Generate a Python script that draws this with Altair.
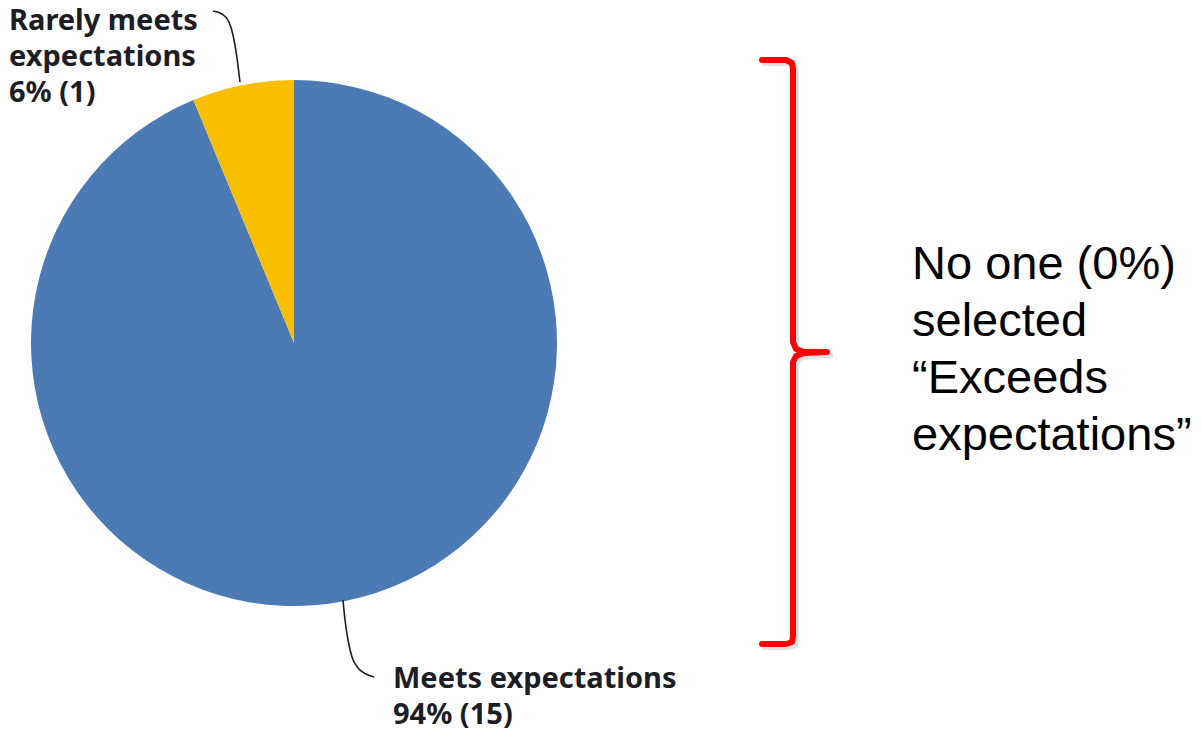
import altair as alt
import pandas as pd

# ---- data ----
categories = ["Meets expectations", "Rarely meets expectations"]
counts = [15, 1]
shares = ["94%", "6%"]
slice_colors = ["#4c7ab5", "#f8be00"]

label_lines = [["Meets expectations", "94% (15)"],
               ["Rarely meets", "expectations", "6% (1)"]]
label_x = [393, 9]
label_y = [688, 30]

note_lines = ["No one (0%)", "selected", "\u201cExceeds", "expectations\u201d"]

# leader lines (screen px) for the two labels
lead_top_x = [213, 222, 229, 233, 237, 240]
lead_top_y = [11, 14, 22, 35, 58, 82]
lead_bot_x = [343, 345, 348, 352, 358, 366, 374]
lead_bot_y = [600, 620, 640, 657, 668, 674, 677]

# red bracket path (screen px)
br_x = [762, 786, 792, 793, 793, 796, 804, 827, 804, 796, 793, 793, 792, 786, 762]
br_y = [60, 60, 63, 69, 342, 349, 352, 352, 353, 356, 362, 636, 642, 644, 644]

W, H, M = 1186, 722, 8
xs = alt.Scale(domain=[M, M + W], nice=False, zero=False)
ys = alt.Scale(domain=[M, M + H], nice=False, zero=False, reverse=True)

pie_df = pd.DataFrame({"cat": categories, "n": counts, "ord": [0, 1]})
pie = alt.Chart(pie_df).mark_arc(outerRadius=263, stroke=None).encode(
    theta=alt.Theta("n:Q", stack=True),
    order=alt.Order("ord:Q"),
    color=alt.Color("cat:N", scale=alt.Scale(domain=categories, range=slice_colors), legend=None),
    x=alt.value(294 - M),
    y=alt.value(343 - M),
)

lab_df = pd.DataFrame({
    "t": ["\n".join(l) for l in label_lines],
    "x": label_x, "y": label_y,
})
labels = alt.Chart(lab_df).mark_text(
    lineBreak="\n", align="left", baseline="alphabetic", font="Noto Sans",
    fontWeight="bold", fontSize=29, lineHeight=36, color="#1d1d26",
).encode(x=alt.X("x:Q", scale=xs, axis=None), y=alt.Y("y:Q", scale=ys, axis=None), text="t:N")

lead_df = pd.concat([
    pd.DataFrame({"x": lead_top_x, "y": lead_top_y, "g": "top", "i": range(len(lead_top_x))}),
    pd.DataFrame({"x": lead_bot_x, "y": lead_bot_y, "g": "bot", "i": range(len(lead_bot_x))}),
])
leads = alt.Chart(lead_df).mark_line(interpolate="monotone", color="#1d1d26", strokeWidth=1.6).encode(
    x=alt.X("x:Q", scale=xs, axis=None), y=alt.Y("y:Q", scale=ys, axis=None),
    detail="g:N", order="i:Q",
)

br_df = pd.DataFrame({"x": br_x, "y": br_y, "i": range(len(br_x))})
br_shadow_df = pd.DataFrame({"x": [v + 3 for v in br_x], "y": [v + 3 for v in br_y], "i": range(len(br_x))})
shadow = alt.Chart(br_shadow_df).mark_line(color="#888888", opacity=0.25, strokeWidth=6,
                                           strokeCap="round", strokeJoin="round").encode(
    x=alt.X("x:Q", scale=xs, axis=None), y=alt.Y("y:Q", scale=ys, axis=None), order="i:Q")
bracket = alt.Chart(br_df).mark_line(color="#ff0000", strokeWidth=6,
                                     strokeCap="round", strokeJoin="round").encode(
    x=alt.X("x:Q", scale=xs, axis=None), y=alt.Y("y:Q", scale=ys, axis=None), order="i:Q")

note_df = pd.DataFrame({"t": ["\n".join(note_lines)], "x": [912], "y": [279]})
note = alt.Chart(note_df).mark_text(
    lineBreak="\n", align="left", baseline="alphabetic", font="Liberation Sans",
    fontSize=47, lineHeight=57, color="#000000",
).encode(x=alt.X("x:Q", scale=xs, axis=None), y=alt.Y("y:Q", scale=ys, axis=None), text="t:N")

chart = alt.layer(pie, leads, labels, shadow, bracket, note).properties(
    width=W, height=H, padding=0, autosize=alt.AutoSizeParams(type="none"),
    background="white",
).configure_view(stroke=None)

chart.save("out.html", embed_options={"renderer": "svg", "actions": False})
